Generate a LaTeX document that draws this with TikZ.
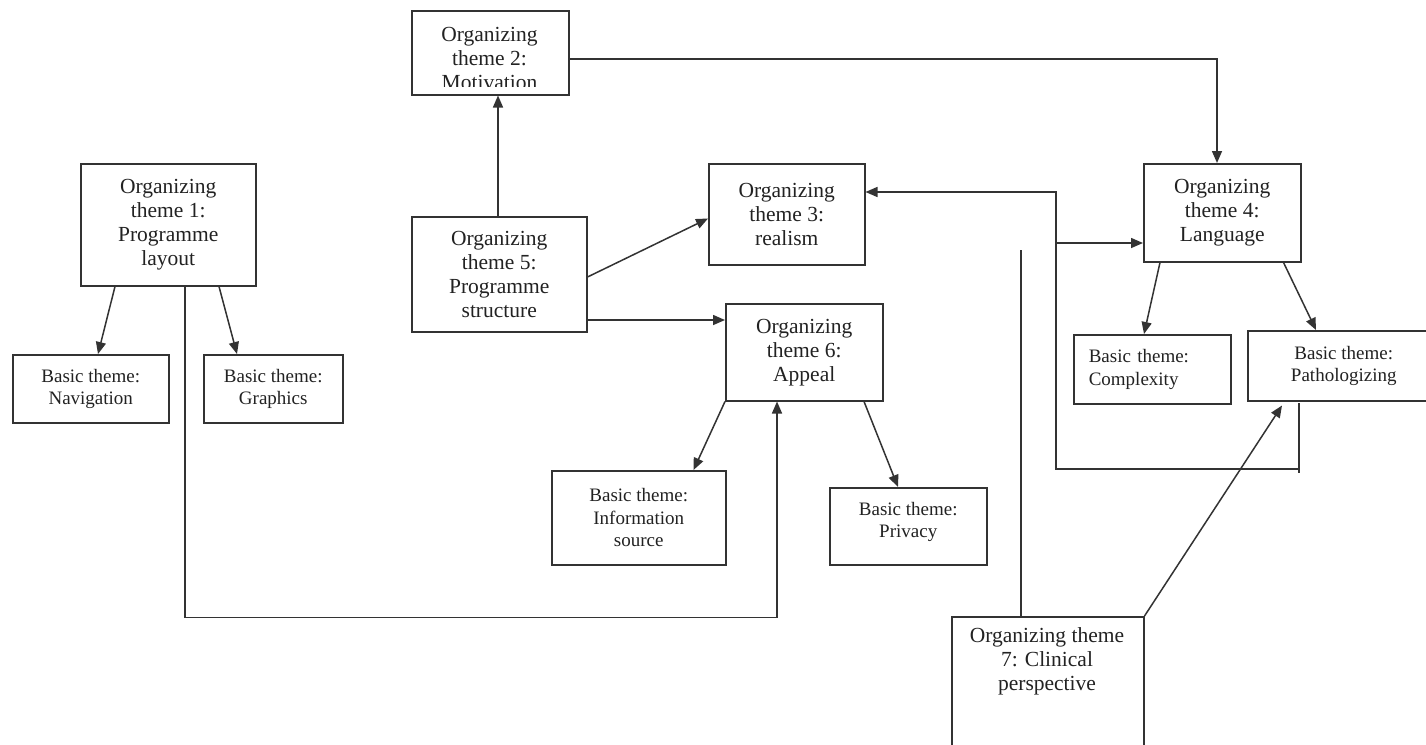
\documentclass[tikz,border=0pt]{standalone}
\usepackage{fontspec}
\setmainfont{Liberation Serif}
\usetikzlibrary{arrows.meta}
\definecolor{ln}{HTML}{333333}
\definecolor{tx}{HTML}{222222}
\begin{document}
\begin{tikzpicture}[x=1pt,y=-1pt,
  box/.style={draw=ln, line width=1.5pt, rectangle, inner sep=0pt, anchor=north west, align=center, text=tx},
  org/.style={box, font=\fontsize{21.5}{24}\selectfont},
  bas/.style={box, font=\fontsize{19}{22.5}\selectfont},
  lnk/.style={draw=ln, line width=1.5pt},
  arr/.style={lnk, -{Triangle[length=12pt,width=10pt]}}]
\clip (0,0) rectangle (1426,744);
\fill[white] (0,0) rectangle (1426,744);
% boxes
\node[org, minimum width=175pt, minimum height=122pt] (b1) at (80,163) {Organizing\\theme 1:\\Programme\\layout};
\node[bas, minimum width=156pt, minimum height=68pt] (nav) at (12,354) {Basic theme:\\Navigation};
\node[bas, minimum width=139pt, minimum height=68pt] (gra) at (203,354) {Basic theme:\\Graphics};
\node[box, minimum width=157pt, minimum height=84pt] (b2) at (411,10) {};
\begin{scope}
\clip (411,10) rectangle (568,86);
\node[font=\fontsize{21.5}{24}\selectfont, align=center, text=tx, inner sep=0pt] (t2) at (489.5,58) {Organizing\\theme 2:\\Motivation};
\end{scope}
\node[org, minimum width=175pt, minimum height=115pt] (b5) at (411,216) {Organizing\\theme 5:\\Programme\\structure};
\node[org, minimum width=156pt, minimum height=101pt] (b3) at (708,163) {Organizing\\theme 3:\\realism};
\node[org, minimum width=157pt, minimum height=97pt] (b6) at (725,303) {Organizing\\theme 6:\\Appeal};
\node[bas, minimum width=174pt, minimum height=94pt] (info) at (551,470) {Basic theme:\\Information\\source};
\node[bas, minimum width=157pt, minimum height=77pt] (priv) at (829,487) {Basic theme:\\Privacy\\[-10pt]};
\node[org, minimum width=157pt, minimum height=98pt] (b4) at (1143,163) {Organizing\\theme 4:\\Language};
\node[bas, minimum width=157pt, minimum height=69pt, text width=127pt, align=left] (comp) at (1073,334) {Basic theme:\\Complexity};
\node[bas, minimum width=192pt, minimum height=70pt] (pa) at (1247,330) {Basic theme:\\Pathologizing};
\node[box, minimum width=192pt, minimum height=170pt] (b7) at (951,616) {};
\node[font=\fontsize{21.5}{24}\selectfont, align=center, text=tx, inner sep=0pt] (t7) at (1047,661) {Organizing theme\\7: Clinical\\perspective};
% coordinates
\coordinate (fbA) at (1299,403);
\coordinate (fbB) at (1299,473);
\coordinate (fbC) at (1299,469);
\coordinate (jx) at (1056,192);
\coordinate (jy) at (1056,243);
\coordinate (vtop) at (1021,250);
% connectors
\draw[arr] ([xshift=35pt]b1.south west) -- ([xshift=86pt]nav.north west);
\draw[arr] ([xshift=139pt]b1.south west) -- ([xshift=34pt]gra.north west);
\draw[arr] ([xshift=105pt]b1.south west) -- ++(0,331) -| ([xshift=52pt]b6.south west);
\draw[arr] ([xshift=87pt]b5.north west) -- ([xshift=87pt]b2.south west);
\draw[arr] ([yshift=-49pt]b2.north east) -| ([xshift=74pt]b4.north west);
\draw[arr] ([yshift=-61pt]b5.north east) -- ([yshift=47pt]b3.south west);
\draw[arr] ([yshift=-104pt]b5.north east) -- ([yshift=-17pt]b6.north west);
\draw[arr] (b6.south west) -- ([xshift=-33pt]info.north east);
\draw[arr] ([xshift=139pt]b6.south west) -- ([xshift=69pt]priv.north west);
\draw[arr] ([xshift=17pt]b4.south west) -- ([xshift=71pt]comp.north west);
\draw[arr] ([xshift=-18pt]b4.south east) -- ([xshift=69pt]pa.north west);
\draw[lnk] (fbA) -- (fbB);
\draw[arr] (fbC) -| (jx) -- ([yshift=-29pt]b3.north east);
\draw[arr] (jy) -- (jy -| b4.west);
\draw[lnk] (vtop) -- (vtop |- b7.north);
\draw[arr] (b7.north east) -- ([xshift=35pt,yshift=-4pt]pa.south west);
\end{tikzpicture}
\end{document}
